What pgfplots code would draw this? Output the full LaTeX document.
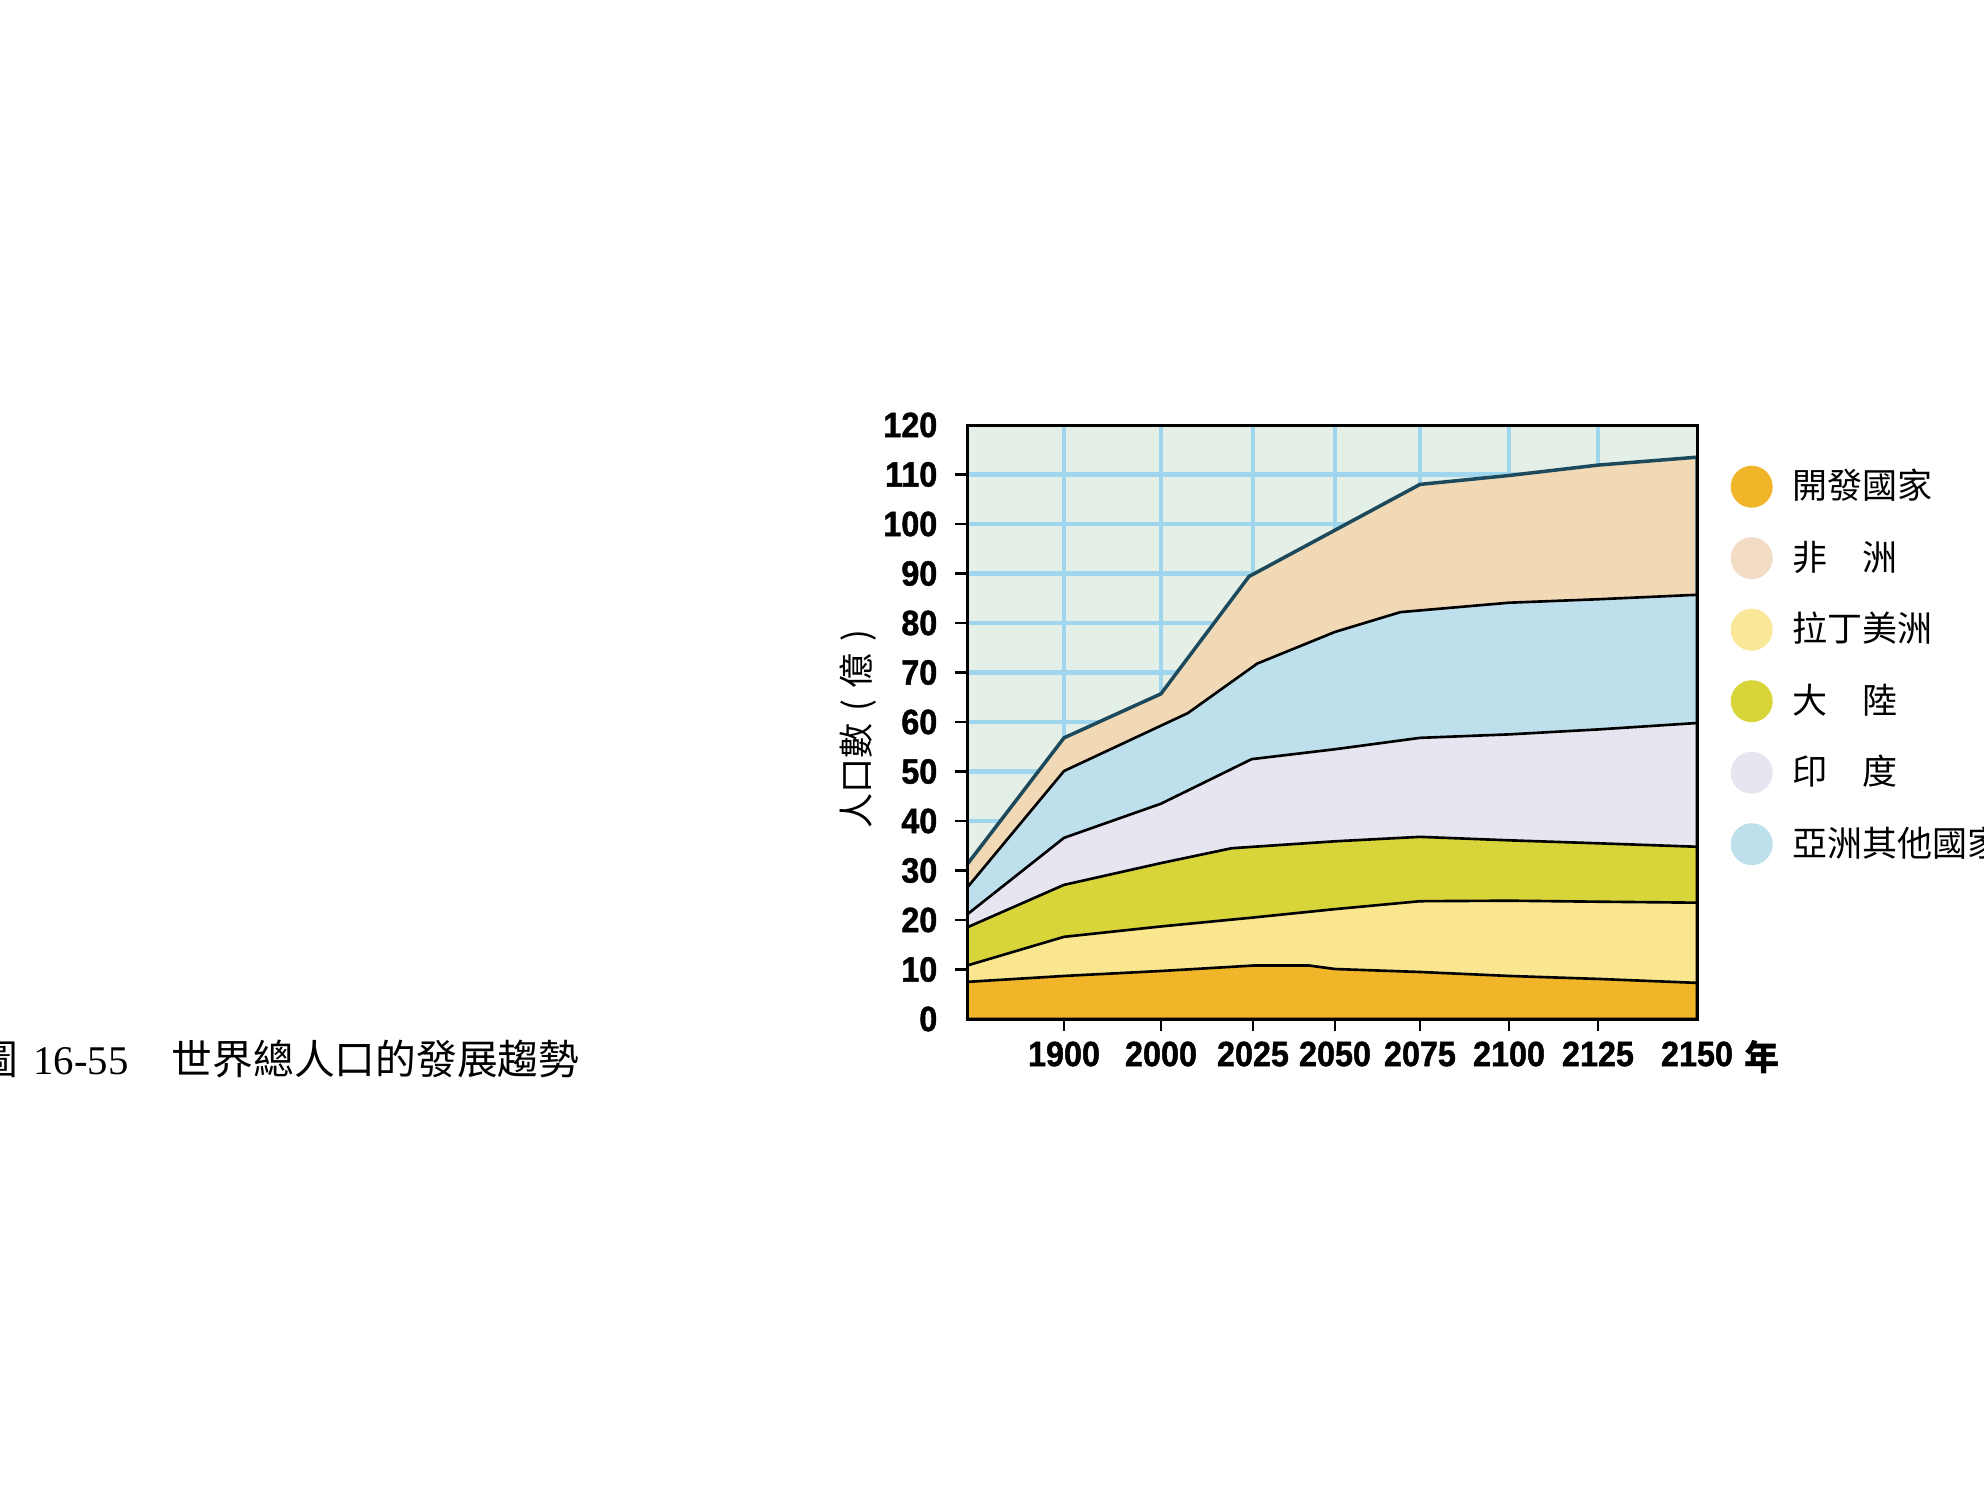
\documentclass[border=0pt]{standalone}
\usepackage{fontspec}
\usepackage{pgfplots}
\pgfplotsset{compat=1.18}
\setmainfont{Noto Sans CJK TC}
\newfontfamily\tickfont{Liberation Sans}[FakeStretch=0.92, FakeBold=1.2]
\newfontfamily\capserif{Liberation Serif}
\definecolor{cDev}{HTML}{F1B52A}
\definecolor{cLat}{HTML}{F9E68F}
\definecolor{cChn}{HTML}{D8D53B}
\definecolor{cInd}{HTML}{E7E5EF}
\definecolor{cAsi}{HTML}{BEE0EC}
\definecolor{cAfr}{HTML}{F1D9B5}
\definecolor{cBg}{HTML}{E4EFE7}
\definecolor{cGrid}{HTML}{A0D5EE}
\definecolor{cTop}{HTML}{1C4A5C}
\definecolor{cAfrL}{HTML}{F3DCC6}
\definecolor{cLatL}{HTML}{FAE89A}
\begin{document}
\begin{tikzpicture}
\path (0,0) rectangle (198.4mm,149.1mm);
\begin{axis}[
  at={(96.7mm,47.2mm)}, anchor=south west,
  scale only axis, width=73mm, height=59.4mm,
  xmin=0, xmax=8, ymin=0, ymax=120,
  axis background/.style={fill=cBg},
  axis line style={black, line width=0.85pt},
  grid=major,
  grid style={cGrid, line width=1.3pt},
  tick align=outside,
  tick pos=left,
  major tick length=1.2mm,
  major tick style={black, line width=0.8pt},
  xtick={1.063,2.126,3.134,4.033,4.964,5.94,6.915},
  xticklabels={1900,2000,2025,2050,2075,2100,2125},
  extra x ticks={8}, extra x tick labels={2150},
  extra x tick style={grid=none, major tick style={draw=none}},
  ytick={10,20,...,110},
  extra y ticks={0,120},
  extra y tick style={grid=none, major tick style={draw=none}},
  /pgf/number format/assume math mode=true,
  xticklabel style={font=\tickfont\bfseries\fontsize{10pt}{12pt}\selectfont, anchor=center, inner sep=0pt, yshift=-2.3mm},
  yticklabel style={font=\tickfont\bfseries\fontsize{10pt}{12pt}\selectfont, anchor=east, inner sep=0pt, xshift=-1.7mm},
  xlabel={年},
  xlabel style={at={(axis description cs:1.089,-0.064)}, anchor=center, inner sep=0pt, font=\bfseries\fontsize{10pt}{12pt}\selectfont},
  ylabel={人口數\makebox[1em][c]{(}億\makebox[1em][c]{)}},
  ylabel style={at={(axis description cs:-0.149,0.498)}, anchor=center, inner sep=0pt, font=\fontsize{10pt}{12pt}\selectfont},
  title={圖\hspace{1.5mm}{\capserif 16-55}\hspace{4.3mm}世界總人口的發展趨勢},
  title style={overlay, at={(axis description cs:-1.356,-0.103)}, anchor=west, inner sep=0pt, font=\fontsize{11.6pt}{13pt}\selectfont},
  legend image code/.code={\fill[#1, draw=none] (2.1mm,0mm) circle (2.1mm);},
  legend cell align=left,
  legend style={overlay, at={(axis description cs:1.0452,0.9327)}, anchor=north west, draw=none, fill=none, inner sep=0pt, row sep=2.95mm, column sep=2mm, font=\fontsize{9.96pt}{12pt}\selectfont, nodes={inner sep=0pt}},
  after end axis/.code={\draw[black, line width=0.85pt] (rel axis cs:0,0) rectangle (rel axis cs:1,1);},
]
% total (Africa on top)
\addplot[forget plot, fill=cAfr, draw=cTop, line width=1pt] coordinates {
 (0,31.2) (1.063,56.8) (2.126,65.7) (3.09,89.4) (4.964,108.0) (5.94,109.8) (6.915,111.9) (8,113.5)} \closedcycle;
% Africa / other Asia
\addplot[forget plot, fill=cAsi, draw=black, line width=0.75pt] coordinates {
 (0,26.5) (1.063,50.1) (2.42,61.8) (3.18,71.8) (4.033,78.2) (4.75,82.2) (5.94,84.1) (6.915,84.8) (8,85.7)} \closedcycle;
% other Asia / India
\addplot[forget plot, fill=cInd, draw=black, line width=0.75pt] coordinates {
 (0,21.1) (1.063,36.6) (2.126,43.5) (3.12,52.5) (4.033,54.5) (4.964,56.8) (5.94,57.5) (6.915,58.5) (8,59.8)} \closedcycle;
% India / China
\addplot[forget plot, fill=cChn, draw=black, line width=0.75pt] coordinates {
 (0,18.5) (1.063,27.1) (2.126,31.5) (2.9,34.5) (4.033,35.9) (4.964,36.8) (5.94,36.1) (6.915,35.5) (8,34.8)} \closedcycle;
% China / Latin America
\addplot[forget plot, fill=cLat, draw=black, line width=0.75pt] coordinates {
 (0,10.8) (1.063,16.6) (2.126,18.7) (3.134,20.5) (4.033,22.2) (4.964,23.8) (5.94,23.9) (6.915,23.7) (8,23.5)} \closedcycle;
% Latin America / developed
\addplot[forget plot, fill=cDev, draw=black, line width=0.75pt] coordinates {
 (0,7.5) (1.063,8.7) (2.126,9.7) (3.134,10.8) (3.75,10.8) (4.033,10.1) (4.964,9.5) (5.94,8.7) (6.915,8.1) (8,7.3)} \closedcycle;
\addlegendimage{cDev}\addlegendentry{開發國家}
\addlegendimage{cAfrL}\addlegendentry{非　洲}
\addlegendimage{cLatL}\addlegendentry{拉丁美洲}
\addlegendimage{cChn}\addlegendentry{大　陸}
\addlegendimage{cInd}\addlegendentry{印　度}
\addlegendimage{cAsi}\addlegendentry{亞洲其他國家}
\end{axis}
\end{tikzpicture}
\end{document}
